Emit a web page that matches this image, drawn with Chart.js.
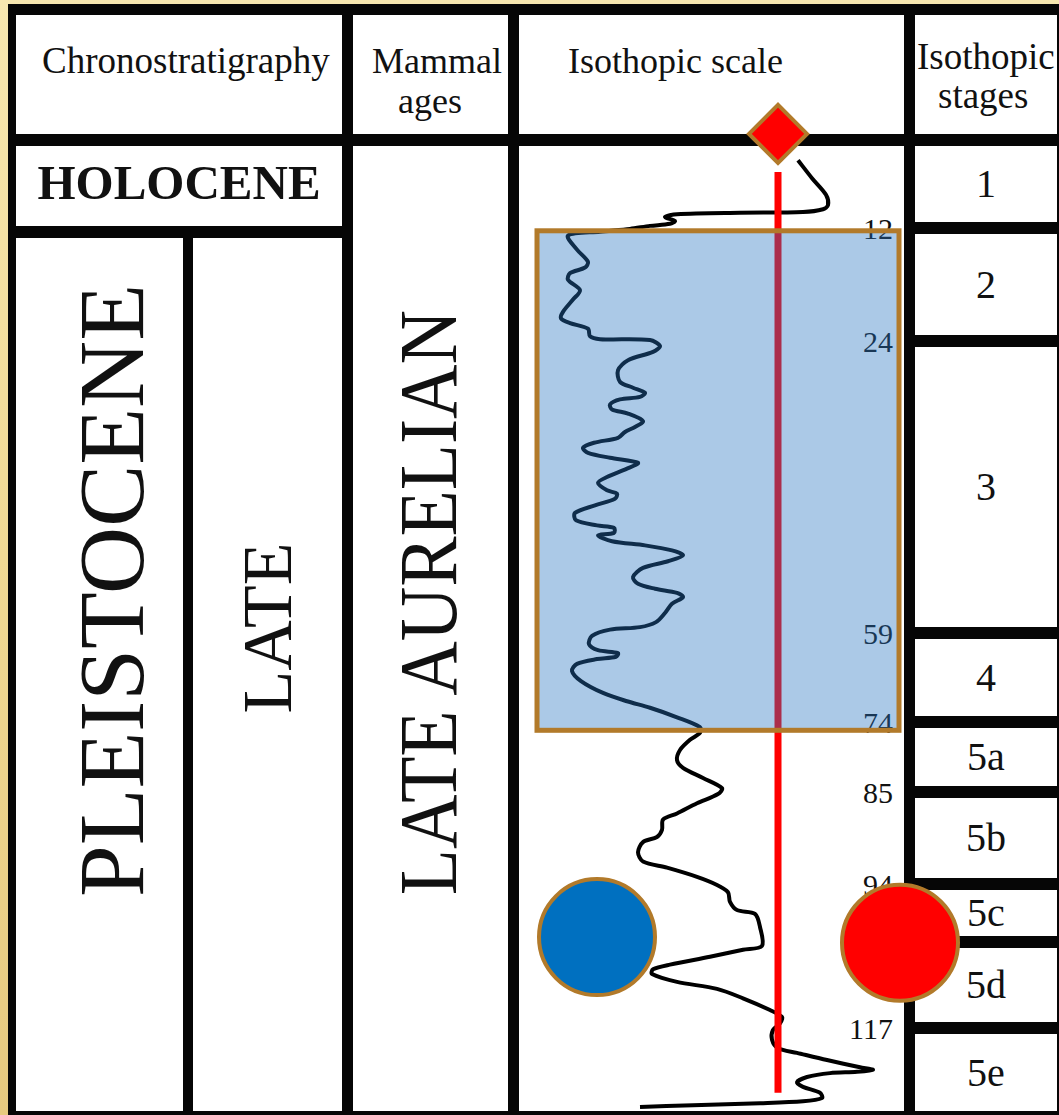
<!DOCTYPE html>
<html>
<head>
<meta charset="utf-8">
<script src="https://cdn.jsdelivr.net/npm/chart.js@4.4.1/dist/chart.umd.min.js"></script>
<style>
  html, body { margin: 0; padding: 0; }
  body {
    width: 1059px; height: 1115px; overflow: hidden; position: relative;
    background: linear-gradient(180deg, #f7e7b0 0%, #f0d994 50%, #e6c97f 100%);
    font-family: "Liberation Serif", "Times New Roman", serif; color: #111;
  }
  #frame { position: absolute; left: 8px; top: 4px; right: 0; bottom: 0; background: #060606; }
  .cell { position: absolute; background: #fff; z-index: 1; }
  .t { position: absolute; white-space: nowrap; z-index: 2; }
  .rot { position: absolute; white-space: nowrap; text-align: center; z-index: 2; transform-origin: 50% 50%; }
  canvas { position: absolute; left: 0; top: 0; z-index: 5; pointer-events: none; }
</style>
</head>
<body>
<div id="frame"></div>

<!-- header row -->
<div class="cell" style="left:16px;top:15px;width:326px;height:119px"></div>
<div class="cell" style="left:353px;top:15px;width:155px;height:119px"></div>
<div class="cell" style="left:519px;top:15px;width:385px;height:119px"></div>
<div class="cell" style="left:915px;top:15px;width:142px;height:119px"></div>
<div class="t" style="left:42px;top:42px;font-size:37px;line-height:37px">Chronostratigraphy</div>
<div class="t" style="left:372px;top:43px;font-size:36px;line-height:36px">Mammal</div>
<div class="t" style="left:398px;top:83px;font-size:36px;line-height:36px">ages</div>
<div class="t" style="left:568px;top:43px;font-size:36px;line-height:36px">Isothopic scale</div>
<div class="t" style="left:917px;top:38px;font-size:37px;line-height:37px">Isothopic</div>
<div class="t" style="left:938px;top:77px;font-size:37px;line-height:37px">stages</div>

<!-- chronostratigraphy column -->
<div class="cell" style="left:16px;top:146px;width:326px;height:80px"></div>
<div class="t" style="left:16px;width:326px;text-align:center;top:158px;font-size:49px;line-height:49px;font-weight:bold">HOLOCENE</div>
<div class="cell" style="left:16px;top:238px;width:167px;height:873px"></div>
<div class="cell" style="left:193px;top:238px;width:149px;height:873px"></div>
<div class="rot" style="left:-289px;top:544px;width:800px;height:93px;font-size:93px;line-height:93px;transform:rotate(-90deg)">PLEISTOCENE</div>
<div class="rot" style="left:68px;top:593px;width:400px;height:70px;font-size:70px;line-height:70px;transform:rotate(-90deg)">LATE</div>

<!-- mammal ages column -->
<div class="cell" style="left:353px;top:146px;width:155px;height:965px"></div>
<div class="rot" style="left:28px;top:561px;width:800px;height:83px;font-size:83px;line-height:83px;transform:rotate(-90deg) scaleX(0.91)">LATE AURELIAN</div>

<!-- isotopic scale column -->
<div class="cell" style="left:519px;top:146px;width:385px;height:965px"></div>

<canvas id="chart" width="1059" height="1115"></canvas>

<script>
// ---- data ----
// isotopic record: relative isotopic value (left = cold, right = warm) against age (ka)
const curveIso = [
  2.79, 2.93, 3.07, 3.09, 3.04, 2.84, 2.21, 1.58, 1.46, 1.56,
  1.51, 1.31, 1.11, 0.81, 0.49, 0.58, 0.69, 0.66, 0.51, 0.49,
  0.61, 0.54, 0.44, 0.42, 0.51, 0.69, 0.71, 0.81, 1.31, 1.41,
  1.34, 1.09, 0.99, 1.01, 1.14, 1.26, 1.21, 1.01, 0.91, 0.93,
  1.09, 1.24, 1.16, 1.06, 0.99, 0.75, 0.64, 0.69, 0.91, 1.19,
  1.08, 0.88, 0.79, 0.88, 0.98, 0.96, 0.76, 0.56, 0.57, 0.78,
  0.95, 0.95, 0.79, 0.93, 1.26, 1.53, 1.64, 1.49, 1.24, 1.14,
  1.19, 1.36, 1.58, 1.64, 1.53, 1.46, 1.37, 1.21, 0.91, 0.73,
  0.70, 0.79, 0.99, 0.97, 0.78, 0.58, 0.53, 0.62, 0.84, 1.08,
  1.31, 1.58, 1.81, 1.81, 1.71, 1.61, 1.58, 1.64, 1.84, 2.03,
  1.99, 1.78, 1.58, 1.44, 1.43, 1.38, 1.24, 1.19, 1.24, 1.48,
  1.78, 1.98, 2.09, 2.11, 2.18, 2.36, 2.41, 2.43, 2.24, 1.91,
  1.51, 1.34, 1.33, 1.58, 1.98, 2.24, 2.51, 2.63, 2.61, 2.54,
  2.53, 2.59, 2.78, 3.08, 3.41, 3.54, 3.38, 3.11, 2.88, 2.78,
  2.84, 3.01, 3.03, 2.84, 2.41, 1.74, 1.21
];
const curveAge = [
  2.2, 4.8, 7.2, 8.7, 9.3, 9.7, 9.8, 10.0, 10.4, 11.0,
  11.4, 11.7, 12.1, 12.4, 12.8, 14.3, 15.6, 16.2, 16.8, 17.5,
  18.6, 19.6, 20.9, 21.6, 22.1, 22.7, 23.5, 23.8, 23.9, 24.6,
  25.3, 26.3, 27.5, 28.9, 29.6, 30.2, 30.7, 31.0, 31.6, 32.2,
  32.7, 33.6, 34.3, 34.9, 35.6, 36.2, 36.8, 37.4, 38.0, 38.6,
  39.3, 40.3, 41.0, 41.9, 42.3, 42.9, 43.7, 44.6, 45.5, 46.1,
  46.4, 47.0, 47.3, 48.0, 48.5, 49.1, 49.7, 50.4, 51.2, 52.3,
  53.1, 53.7, 54.2, 54.7, 55.5, 56.6, 57.7, 58.3, 58.6, 59.5,
  60.9, 61.9, 62.4, 63.0, 63.4, 64.2, 65.4, 67.1, 69.1, 70.5,
  71.6, 73.2, 74.8, 75.7, 76.8, 78.4, 80.0, 81.2, 82.8, 84.4,
  85.2, 86.1, 87.1, 87.7, 88.7, 89.4, 89.9, 90.9, 91.8, 92.4,
  93.3, 94.2, 95.7, 97.7, 99.4, 100.2, 102.9, 106.5, 107.0, 107.9,
  108.9, 109.5, 110.1, 111.1, 112.0, 113.2, 114.7, 115.6, 116.4, 117.3,
  118.8, 120.1, 120.8, 121.9, 123.0, 123.4, 123.7, 123.9, 124.5, 125.3,
  126.0, 126.9, 127.7, 128.2, 128.5, 128.8, 129.1
];

// isotopic stages and the ages (ka) of their boundaries
const stageNames = ['1', '2', '3', '4', '5a', '5b', '5c', '5d', '5e'];
const stageBounds = [12, 24, 59, 74, 85, 94, 106, 117];
// age labels written beside the record
const ageTicks = [12, 24, 59, 74, 85, 94, 117];

// highlighted interval (ka) and its isotopic span
const boxAges = [12.3, 75.3];
const boxIso = [0.18, 3.80];

// reference line and markers
const refLineIso = 2.59;
const refLineAges = [3.9, 126.9];
const diamondPoint = { x: 2.59, y: -1.6 };
const blueMarker = { x: 0.78, y: 105.0 };
const redMarker = { x: 3.81, y: 106.1 };

// ---- layout of the age axis: fraction of the column height reached at each anchor age ----
const anchorAges = [0, 12, 24, 59, 74, 85, 94, 106, 117, 130];
const anchorFrac = [0, 0.0857, 0.2025, 0.5041, 0.5961, 0.6684, 0.7634, 0.8233, 0.9122, 1];

// piecewise age scale: each stage interval gets its own stretch of the column
class AgeScale extends Chart.LinearScale {
  getPixelForValue(v) {
    let i = 1;
    while (i < anchorAges.length - 1 && v > anchorAges[i]) i++;
    const t = (v - anchorAges[i - 1]) / (anchorAges[i] - anchorAges[i - 1]);
    const f = anchorFrac[i - 1] + t * (anchorFrac[i] - anchorFrac[i - 1]);
    return this.top + f * (this.bottom - this.top);
  }
  getValueForPixel(p) {
    const f = (p - this.top) / (this.bottom - this.top);
    let i = 1;
    while (i < anchorFrac.length - 1 && f > anchorFrac[i]) i++;
    const t = (f - anchorFrac[i - 1]) / (anchorFrac[i] - anchorFrac[i - 1]);
    return anchorAges[i - 1] + t * (anchorAges[i] - anchorAges[i - 1]);
  }
}
AgeScale.id = 'age';
AgeScale.defaults = Chart.LinearScale.defaults;
Chart.register(AgeScale);

const BROWN = '#b27a2a';

// translucent box over the stage 2-4 interval, laid over the record and the reference line
const boxPlugin = {
  id: 'stageBox',
  afterDatasetDraw(chart, args) {
    if (args.index !== 1) return;
    const xs = chart.scales.x, ys = chart.scales.y, ctx = chart.ctx;
    const l = xs.getPixelForValue(boxIso[0]), r = xs.getPixelForValue(boxIso[1]);
    const t = ys.getPixelForValue(boxAges[0]), b = ys.getPixelForValue(boxAges[1]);
    ctx.save();
    ctx.fillStyle = 'rgba(38,115,192,0.39)';
    ctx.fillRect(l, t, r - l, b - t);
    ctx.strokeStyle = BROWN;
    ctx.lineWidth = 5;
    ctx.strokeRect(l, t, r - l, b - t);
    ctx.restore();
  }
};

const chart = new Chart(document.getElementById('chart'), {
  type: 'scatter',
  data: {
    datasets: [
      {
        label: 'Isotopic record',
        data: curveIso.map((v, i) => ({ x: v, y: curveAge[i] })),
        showLine: true, borderColor: '#000', borderWidth: 4, tension: 0.3,
        pointRadius: 0, order: 5
      },
      {
        label: 'Reference line',
        data: refLineAges.map(a => ({ x: refLineIso, y: a })),
        showLine: true, borderColor: '#ff0000', borderWidth: 7, borderCapStyle: 'butt',
        pointRadius: 0, order: 4, clip: false
      },
      {
        label: 'Blue marker',
        data: [blueMarker],
        pointRadius: 58, pointBackgroundColor: '#0070c0', pointBorderColor: BROWN, pointBorderWidth: 4,
        order: 2, clip: false
      },
      {
        label: 'Red marker',
        data: [redMarker],
        pointRadius: 58, pointBackgroundColor: '#ff0000', pointBorderColor: BROWN, pointBorderWidth: 4,
        order: 2, clip: false
      },
      {
        label: 'Top marker',
        data: [diamondPoint],
        pointStyle: 'rectRot', pointRadius: 29, pointBackgroundColor: '#ff0000', pointBorderColor: BROWN, pointBorderWidth: 4,
        order: 1, clip: false
      }
    ]
  },
  options: {
    responsive: false,
    animation: false,
    events: [],
    layout: { autoPadding: false, padding: { left: 519, right: 155, top: 145, bottom: 2 } },
    scales: {
      x: { type: 'linear', min: 0, max: 3.85, display: false },
      y: { type: 'age', min: 0, max: 130, display: false }
    },
    plugins: { legend: { display: false }, tooltip: { enabled: false } }
  },
  plugins: [boxPlugin]
});

// stage column and age labels, placed with the same age scale
(function () {
  const ys = chart.scales.y, area = chart.chartArea;
  const edges = [area.top, ...stageBounds.map(a => ys.getPixelForValue(a)), area.bottom];
  const half = 6, fs = 40;
  stageNames.forEach((name, i) => {
    const top = Math.round(edges[i] + (i ? half : 1));
    const bot = Math.round(edges[i + 1] - (i < stageNames.length - 1 ? half : 2));
    const cell = document.createElement('div');
    cell.className = 'cell';
    Object.assign(cell.style, { left: '915px', top: top + 'px', width: '142px', height: (bot - top) + 'px' });
    const lab = document.createElement('div');
    lab.textContent = name;
    Object.assign(lab.style, {
      position: 'absolute', left: '0', right: '0', textAlign: 'center', top: '50%',
      marginTop: (-fs / 2) + 'px', fontSize: fs + 'px', lineHeight: fs + 'px'
    });
    cell.appendChild(lab);
    document.body.appendChild(cell);
  });
  ageTicks.forEach(a => {
    const d = document.createElement('div');
    d.className = 't';
    d.textContent = String(a);
    const yy = ys.getPixelForValue(a);
    Object.assign(d.style, {
      right: (1059 - (area.right - 11)) + 'px', top: (yy - 14) + 'px',
      fontSize: '30px', lineHeight: '30px'
    });
    document.body.appendChild(d);
  });
})();
</script>
</body>
</html>
